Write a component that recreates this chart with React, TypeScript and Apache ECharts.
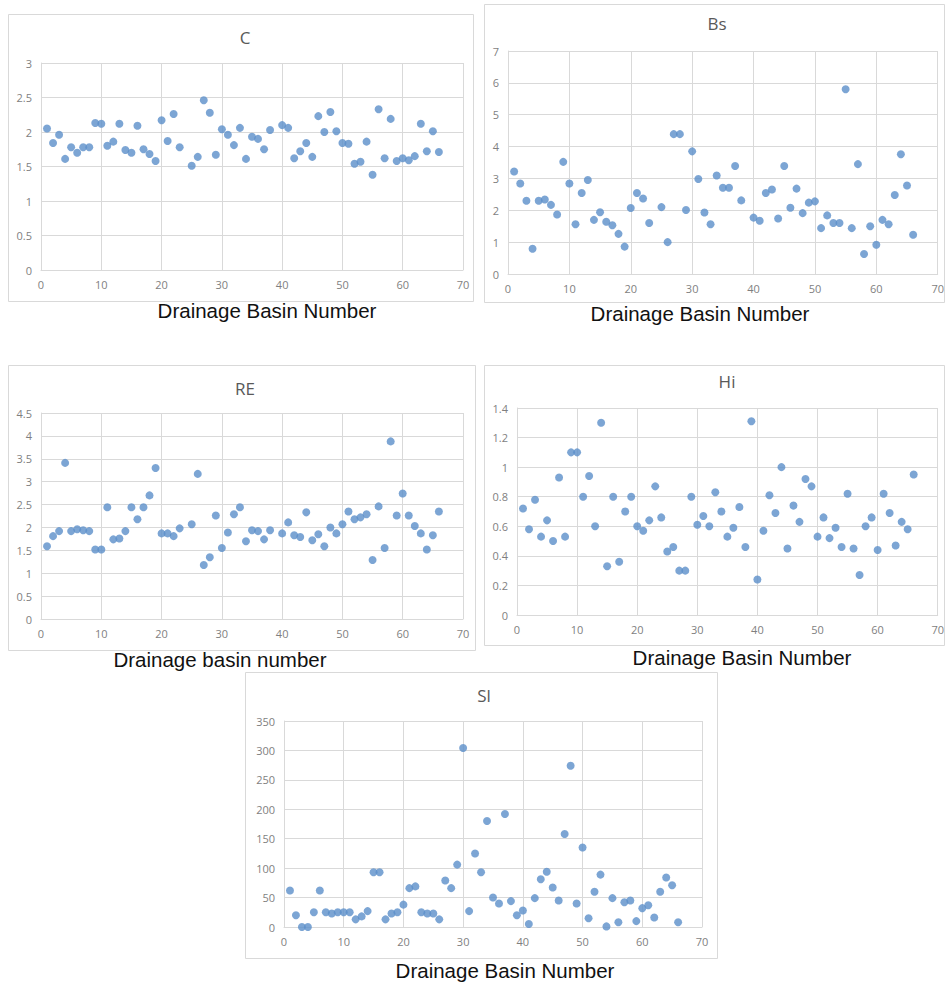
import React, { useEffect, useRef } from "react";
import * as echarts from "echarts";

const basinNumbers = [
  1, 2, 3, 4, 5, 6, 7, 8, 9, 10, 11, 12, 13, 14, 15, 16, 17, 18, 19, 20, 21, 22,
  23, 24, 25, 26, 27, 28, 29, 30, 31, 32, 33, 34, 35, 36, 37, 38, 39, 40, 41, 42,
  43, 44, 45, 46, 47, 48, 49, 50, 51, 52, 53, 54, 55, 56, 57, 58, 59, 60, 61, 62,
  63, 64, 65, 66,
];

const cValues = [
  2.05, 1.84, 1.96, 1.61, 1.78, 1.7, 1.78, 1.78, 2.13, 2.12,
  1.8, 1.86, 2.12, 1.74, 1.7, 2.09, 1.75, 1.68, 1.58, 2.17,
  1.87, 2.26, 1.78, null, 1.51, 1.64, 2.46, 2.28, 1.67, 2.04,
  1.96, 1.81, 2.06, 1.61, 1.93, 1.9, 1.75, 2.03, null, 2.1,
  2.06, 1.62, 1.72, 1.84, 1.64, 2.23, 2.0, 2.29, 2.01, 1.84,
  1.83, 1.54, 1.57, 1.86, 1.38, 2.33, 1.62, 2.19, 1.58, 1.62,
  1.59, 1.65, 2.12, 1.72, 2.01, 1.71,
];

const bsValues = [
  3.22, 2.84, 2.3, 0.79, 2.3, 2.34, 2.17, 1.87, 3.52, 2.84,
  1.56, 2.54, 2.95, 1.7, 1.94, 1.64, 1.53, 1.26, 0.86, 2.07,
  2.54, 2.37, 1.6, null, 2.1, 1.0, 4.39, 4.39, 2.01, 3.85,
  2.98, 1.93, 1.56, 3.09, 2.71, 2.71, 3.39, 2.31, null, 1.77,
  1.67, 2.54, 2.65, 1.74, 3.39, 2.08, 2.68, 1.91, 2.24, 2.28,
  1.44, 1.84, 1.6, 1.6, 5.8, 1.44, 3.45, 0.63, 1.5, 0.92,
  1.7, 1.56, 2.48, 3.76, 2.78, 1.23,
];

const reValues = [
  1.59, 1.81, 1.92, 3.41, 1.92, 1.96, 1.94, 1.92, 1.52, 1.52,
  2.44, 1.74, 1.76, 1.92, 2.44, 2.18, 2.44, 2.7, 3.3, 1.87,
  1.87, 1.81, 1.98, null, 2.07, 3.17, 1.18, 1.35, 2.26, 1.55,
  1.89, 2.29, 2.44, 1.7, 1.94, 1.92, 1.74, 1.94, null, 1.87,
  2.11, 1.83, 1.79, 2.33, 1.72, 1.85, 1.59, 2.0, 1.87, 2.07,
  2.35, 2.18, 2.22, 2.29, 1.29, 2.46, 1.55, 3.88, 2.26, 2.74,
  2.26, 2.03, 1.87, 1.52, 1.83, 2.35,
];

const hiValues = [
  0.72, 0.58, 0.78, 0.53, 0.64, 0.5, 0.93, 0.53, 1.1, 1.1,
  0.8, 0.94, 0.6, 1.3, 0.33, 0.8, 0.36, 0.7, 0.8, 0.6,
  0.57, 0.64, 0.87, 0.66, 0.43, 0.46, 0.3, 0.3, 0.8, 0.61,
  0.67, 0.6, 0.83, 0.7, 0.53, 0.59, 0.73, 0.46, 1.31, 0.24,
  0.57, 0.81, 0.69, 1.0, 0.45, 0.74, 0.63, 0.92, 0.87, 0.53,
  0.66, 0.52, 0.59, 0.46, 0.82, 0.45, 0.27, 0.6, 0.66, 0.44,
  0.82, 0.69, 0.47, 0.63, 0.58, 0.95,
];

const slValues = [
  62, 20, 0, 0, 25, 62, 25, 23, 25, 25,
  25, 13, 18, 27, 93, 93, 13, 23, 25, 38,
  66, 69, 25, 23, 23, 13, 79, 66, 106, 304,
  27, 125, 93, 180, 50, 40, 192, 44, 20, 28,
  5, 49, 81, 94, 67, 45, 158, 274, 40, 135,
  15, 60, 89, 1, 49, 8, 42, 45, 10, 32,
  37, 16, 60, 84, 71, 8,
];

const panelTitles = ["C", "Bs", "RE", "Hi", "Sl"];
const xAxisTitles = [
  "Drainage Basin Number",
  "Drainage Basin Number",
  "Drainage basin number",
  "Drainage Basin Number",
  "Drainage Basin Number",
];
const yMax = [3, 7, 4.5, 1.4, 350];
const yInterval = [0.5, 1, 0.5, 0.2, 50];
const xMax = 70;
const xInterval = 10;

// layout (pixels)
const grids = [
  { left: 41, top: 63, width: 422, height: 207 },
  { left: 508, top: 51, width: 431, height: 223 },
  { left: 41, top: 413, width: 422, height: 206 },
  { left: 517, top: 408, width: 422, height: 207 },
  { left: 284, top: 721, width: 418, height: 206 },
];
const boxes = [
  { x: 8, y: 14, w: 465, h: 287 },
  { x: 484, y: 4, w: 460, h: 298 },
  { x: 8, y: 365, w: 467, h: 285 },
  { x: 484, y: 365, w: 460, h: 280 },
  { x: 245, y: 672, w: 472, h: 286 },
];
const titlePos = [
  { x: 245, y: 37 },
  { x: 717, y: 23 },
  { x: 245, y: 388 },
  { x: 727, y: 381 },
  { x: 484, y: 695 },
];
const xTitlePos = [
  { x: 267, y: 310 },
  { x: 700, y: 313 },
  { x: 220, y: 659 },
  { x: 742, y: 657 },
  { x: 505, y: 970 },
];

const allValues = [cValues, bsValues, reValues, hiValues, slValues];

export default function App() {
  const ref = useRef<HTMLDivElement>(null);
  useEffect(() => {
    if (!ref.current) return;
    const chart = echarts.init(ref.current, undefined, { renderer: "svg" });
    const gridLine = { show: true, lineStyle: { color: "#d9d9d9", width: 1 } };
    const axisLabel = {
      color: "#7f7f7f",
      fontSize: 11,
      fontFamily: "Open Sans",
    };
    const graphics: any[] = [];
    boxes.forEach((b) => {
      graphics.push({
        type: "rect",
        shape: { x: b.x + 0.5, y: b.y + 0.5, width: b.w, height: b.h },
        style: { fill: "#ffffff", stroke: "#d9d9d9", lineWidth: 1 },
        z: -10,
        silent: true,
      });
    });
    panelTitles.forEach((t, i) => {
      graphics.push({
        type: "text",
        x: titlePos[i].x,
        y: titlePos[i].y,
        style: {
          text: t,
          fill: "#595959",
          font: "17px 'Open Sans'",
          textAlign: "center",
          textVerticalAlign: "middle",
        },
      });
    });
    xAxisTitles.forEach((t, i) => {
      graphics.push({
        type: "text",
        x: xTitlePos[i].x,
        y: xTitlePos[i].y,
        style: {
          text: t,
          fill: "#111111",
          font: "20.5px 'Liberation Sans'",
          textAlign: "center",
          textVerticalAlign: "middle",
        },
      });
    });
    chart.setOption({
      animation: false,
      backgroundColor: "#ffffff",
      grid: grids.map((g) => ({ ...g, containLabel: false })),
      xAxis: grids.map((_, i) => ({
        type: "value",
        gridIndex: i,
        min: 0,
        max: xMax,
        interval: xInterval,
        axisLine: { show: true, lineStyle: { color: "#d9d9d9" } },
        axisTick: { show: false },
        splitLine: gridLine,
        axisLabel: { ...axisLabel, margin: 9 },
      })),
      yAxis: grids.map((_, i) => ({
        type: "value",
        gridIndex: i,
        min: 0,
        max: yMax[i],
        interval: yInterval[i],
        axisLine: { show: true, lineStyle: { color: "#d9d9d9" } },
        axisTick: { show: false },
        splitLine: gridLine,
        axisLabel: {
          ...axisLabel,
          margin: 9,
          formatter: (v: number) => String(Math.round(v * 100) / 100),
        },
      })),
      series: allValues.map((vals, i) => ({
        type: "scatter",
        xAxisIndex: i,
        yAxisIndex: i,
        symbol: "circle",
        symbolSize: 8,
        itemStyle: { color: "#5b8fc9" },
        data: basinNumbers
          .map((n, k) => [n, vals[k]])
          .filter((p) => p[1] !== null && p[1] !== undefined),
      })),
      graphic: graphics,
    });
    return () => chart.dispose();
  }, []);
  return (
    <div
      ref={ref}
      style={{ position: "absolute", left: 0, top: 0, width: 947, height: 983 }}
    />
  );
}
